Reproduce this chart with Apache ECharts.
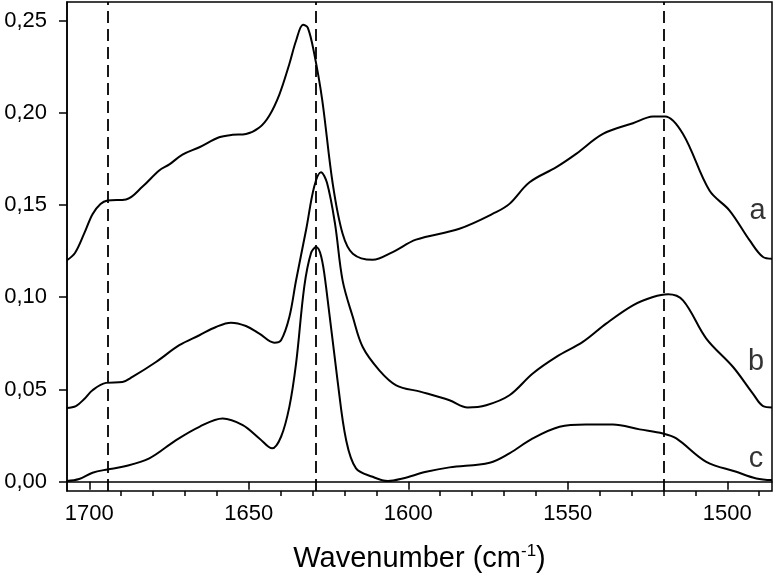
<!DOCTYPE html>
<html>
<head>
<meta charset="utf-8">
<script src="https://cdn.jsdelivr.net/npm/echarts@6/dist/echarts.min.js"></script>
<style>
  html, body { margin: 0; padding: 0; background: #fff; }
  #spectra { width: 774px; height: 580px; }
</style>
</head>
<body>
<div id="spectra"></div>
<script>
// wavenumber / absorbance
const waveA = [1707.1, 1704.5, 1701.5, 1699, 1696.5, 1694.3, 1688.5, 1683.3, 1678.1, 1674.9, 1670.8, 1665.5, 1659.3, 1655.1, 1650.9, 1646.7, 1643.6, 1640.4, 1637.3, 1635.2, 1633, 1631.5, 1629.5, 1627, 1623.7, 1620.6, 1617.4, 1611.2, 1604.9, 1597.6, 1584, 1572.5, 1568.3, 1562, 1553.6, 1547.4, 1539, 1529.6, 1523.3, 1519.5, 1513.9, 1505.6, 1499.3, 1493, 1488.8, 1486]
const absA = [0.120, 0.124, 0.135, 0.145, 0.1505, 0.1524, 0.153, 0.160, 0.1687, 0.172, 0.1773, 0.1813, 0.1867, 0.188, 0.1885, 0.192, 0.1984, 0.210, 0.2264, 0.239, 0.2477, 0.246, 0.232, 0.207, 0.1615, 0.1344, 0.1236, 0.1203, 0.1245, 0.1312, 0.1371, 0.1461, 0.1506, 0.1623, 0.1705, 0.1777, 0.1885, 0.1943, 0.1979, 0.198, 0.1885, 0.1578, 0.147, 0.1308, 0.1218, 0.1209]

const waveB = [1707.1, 1704.2, 1701.5, 1699, 1694.8, 1689.6, 1686.5, 1679.1, 1671.8, 1665.5, 1660.3, 1655.6, 1650.9, 1646.7, 1642, 1639.9, 1637.3, 1635.2, 1632, 1629.5, 1627.4, 1625.5, 1623, 1620.6, 1617.4, 1614.3, 1609.1, 1603.8, 1596, 1587.1, 1581.4, 1575.6, 1568.3, 1561, 1553.6, 1545.3, 1538, 1529.6, 1523.3, 1518.6, 1513.9, 1506.6, 1498.2, 1492, 1488.8, 1486]
const absB = [0.040, 0.041, 0.045, 0.0496, 0.0536, 0.0541, 0.0568, 0.0649, 0.074, 0.0794, 0.0839, 0.0862, 0.0844, 0.0803, 0.0754, 0.0767, 0.0893, 0.1091, 0.137, 0.160, 0.1678, 0.162, 0.140, 0.109, 0.0893, 0.073, 0.0604, 0.0523, 0.0487, 0.0442, 0.0403, 0.0415, 0.0469, 0.0587, 0.0677, 0.0758, 0.0857, 0.0956, 0.1001, 0.1016, 0.0983, 0.0776, 0.0622, 0.0478, 0.041, 0.0403]

const waveC = [1707.1, 1703.2, 1699, 1694.3, 1689.6, 1681.2, 1672.8, 1665.5, 1658.2, 1651.9, 1646.7, 1642.7, 1639.9, 1637.3, 1635.2, 1632.6, 1630.5, 1628.9, 1627.3, 1625.8, 1622.2, 1619.5, 1616.4, 1611.2, 1606.4, 1601.8, 1594.4, 1587.1, 1574.5, 1568.3, 1561, 1552.6, 1544.3, 1535.9, 1527.5, 1520.2, 1516, 1506.6, 1497.2, 1490.9, 1486]
const absC = [0.0004, 0.0015, 0.0049, 0.0067, 0.0081, 0.0127, 0.0226, 0.0298, 0.0343, 0.0307, 0.0235, 0.0181, 0.0244, 0.0406, 0.064, 0.106, 0.124, 0.1272, 0.122, 0.1057, 0.055, 0.0226, 0.0073, 0.0027, 0.0004, 0.0018, 0.0054, 0.0078, 0.0103, 0.0154, 0.0235, 0.0298, 0.0311, 0.0311, 0.0284, 0.0262, 0.0235, 0.0108, 0.0054, 0.0018, 0.0009]

const dashWaves = [1694.3, 1628.9, 1520]
const xMajor = [1500, 1550, 1600, 1650, 1700]
const xMinor = [1490, 1510, 1520, 1530, 1540, 1560, 1570, 1580, 1590, 1610, 1620, 1630, 1640, 1660, 1670, 1680, 1690]
const yTicks = [0, 0.05, 0.10, 0.15, 0.20, 0.25]

const tagNames = ['a', 'b', 'c']
const tagWave = [1490.5, 1491, 1491]
const tagAbs = [0.1467, 0.065, 0.0126]

const zip = (xs, ys) => xs.map((x, i) => [x, ys[i]])

const chart = echarts.init(document.getElementById('spectra'))
const font = '"Liberation Sans", Arial, sans-serif'
const black = '#000'

const curve = (name, data) => ({
    name: name,
    type: 'line',
    data: data,
    smooth: 0.35,
    showSymbol: false,
    silent: true,
    lineStyle: { color: '#000', width: 2 }
})

const lineA = curve('a', zip(waveA, absA))
lineA.markLine = {
    silent: true,
    symbol: ['none', 'none'],
    label: { show: false },
    lineStyle: { color: '#000', width: 1.8, type: [12, 6] },
    data: dashWaves.map(w => ({ xAxis: w }))
}

const option = {
    animation: false,
    backgroundColor: '#fff',
    grid: {
        left: 67, right: 2, top: 2, bottom: 89,
        show: true, borderColor: black, borderWidth: 1.5
    },
    xAxis: [{
        type: 'value',
        min: 1486, max: 1707,
        inverse: true,
        splitLine: { show: false },
        axisLine: { show: true, lineStyle: { color: black, width: 1.5 } },
        axisTick: { show: true, length: 8, customValues: xMajor, lineStyle: { color: black, width: 1.5 } },
        axisLabel: {
            customValues: xMajor, color: black, fontSize: 22, fontFamily: font, margin: 12,
            formatter: v => String(v)
        },
        name: '{t|Wavenumber (cm}{s|-1}{t|)}',
        nameLocation: 'middle',
        nameGap: 52,
        nameTextStyle: {
            rich: {
                t: { fontSize: 29, fontFamily: font, color: black, lineHeight: 32 },
                s: { fontSize: 17, fontFamily: font, color: black, verticalAlign: 'top', lineHeight: 32 }
            }
        }
    }, {
        type: 'value',
        min: 1486, max: 1707,
        inverse: true,
        position: 'bottom',
        splitLine: { show: false },
        axisLine: { show: false },
        axisTick: { show: true, length: 5, customValues: xMinor, lineStyle: { color: black, width: 1.5 } },
        axisLabel: { show: false }
    }],
    yAxis: {
        type: 'value',
        min: -0.005, max: 0.26,
        splitLine: { show: false },
        axisLine: { show: true, lineStyle: { color: black, width: 1.5 } },
        axisTick: { show: true, length: 8, customValues: yTicks, lineStyle: { color: black, width: 1.5 } },
        axisLabel: {
            customValues: yTicks,
            color: black, fontSize: 22, fontFamily: font, margin: 20,
            formatter: v => v.toFixed(2).replace('.', ',')
        }
    },
    series: [
        lineA,
        curve('b', zip(waveB, absB)),
        curve('c', zip(waveC, absC)),
        {
            type: 'scatter',
            silent: true,
            symbolSize: 0,
            data: tagNames.map((n, i) => ({ name: n, value: [tagWave[i], tagAbs[i]] })),
            label: {
                show: true, position: 'inside',
                formatter: p => p.name,
                color: black, fontSize: 29, fontFamily: font
            }
        }
    ]
}

chart.setOption(option)
</script>
</body>
</html>
